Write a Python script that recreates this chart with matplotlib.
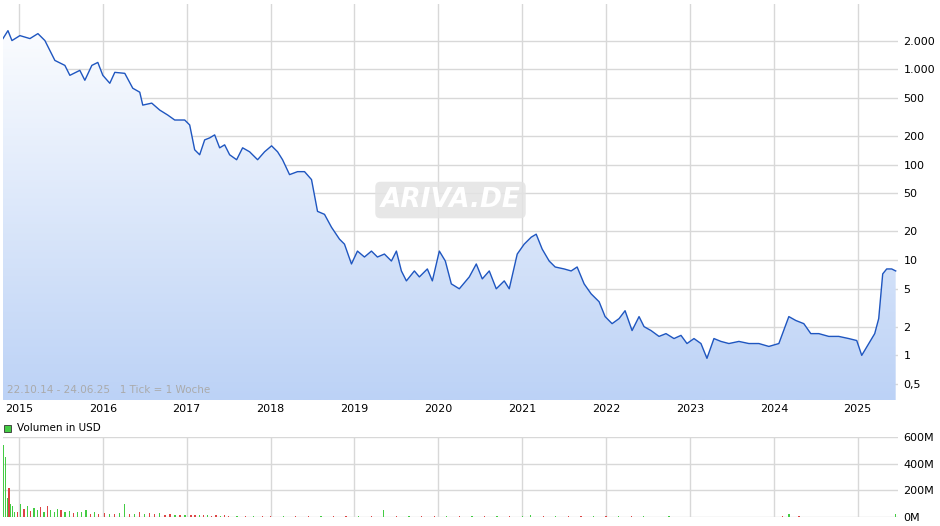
import numpy as np
import matplotlib
matplotlib.use("Agg")
import matplotlib.pyplot as plt
from matplotlib.patches import Rectangle
from matplotlib.colors import LinearSegmentedColormap

# price path: pixel-read (decimal year, price USD)
px = [3,8,12,20,30,38,45,50,55,65,70,80,85,92,98,103,110,115,125,133,140,143,152,160,168,175,185,190,195,200,
      205,210,215,220,225,230,237,243,250,258,265,272,278,283,290,298,305,312,318,325,332,340,345,352,358,365,
      372,378,385,392,397,402,407,415,420,428,433,440,446,452,460,470,477,483,490,497,505,510,518,525,532,537,
      543,550,556,565,572,578,585,592,600,606,613,620,626,633,640,645,652,660,667,675,682,688,695,702,708,715,
      722,730,740,750,760,770,780,790,797,805,812,820,830,840,850,858,863,870,876,880,884,888,893,897]
py = [38,30,40,35,38,33,40,50,60,65,75,70,80,65,62,75,83,72,73,88,92,105,103,110,115,120,120,125,150,155,
      140,138,135,148,145,155,160,148,152,160,152,146,152,160,175,172,172,180,212,215,228,240,245,265,252,258,
      252,258,255,262,252,272,282,272,278,270,282,252,262,285,290,278,265,280,272,290,282,290,255,245,238,235,
      250,262,268,270,272,268,285,295,303,318,325,320,312,332,318,328,332,338,335,340,337,345,340,345,360,340,
      343,345,343,345,345,348,345,318,322,325,335,335,338,338,340,342,357,345,335,320,275,270,270,272]
dates = [2015 + (x - 19) / 84.0 for x in px]
prices = [round(10 ** ((357 - y) / 96.0), 2) for y in py]

# volume (decimal year, millions USD)
vol_dates = [2014.82,2014.84,2014.86,2014.88,2014.90,2014.92,2014.95,2014.98,2015.02,2015.06,2015.10,2015.14,
             2015.18,2015.22,2015.26,2015.30,2015.34,2015.38,2015.42,2015.46,2015.50,2015.55,2015.60,2015.65,
             2015.70,2015.75,2015.80,2015.85,2015.90,2015.95,2016.02,2016.08,2016.14,2016.20,2016.26,2016.32,
             2016.38,2016.44,2016.50,2016.56,2016.62,2016.68,2016.74,2016.80,2016.86,2016.92,2016.98,2017.05,
             2017.10,2017.15,2017.20,2017.25,2017.30,2017.35,2017.40,2017.45,2017.50,2017.60,2017.70,2017.80,
             2017.90,2018.00,2018.15,2018.30,2018.45,2018.60,2018.75,2018.90,2019.05,2019.20,2019.35,2019.50,
             2019.65,2019.80,2019.95,2020.10,2020.25,2020.40,2020.55,2020.70,2020.85,2021.00,2021.10,2021.25,
             2021.40,2021.55,2021.70,2021.85,2022.00,2022.15,2022.30,2022.45,2022.60,2022.75,2022.90,2023.05,
             2023.20,2023.35,2023.50,2023.65,2023.80,2023.95,2024.10,2024.18,2024.30,2024.45,2024.60,2024.75,
             2024.90,2025.05,2025.20,2025.35,2025.45]
vol_vals = [540,450,140,215,95,80,40,35,95,60,85,45,70,50,75,40,85,55,40,60,55,35,45,30,35,40,55,25,35,25,
            28,22,25,30,100,25,22,35,25,30,20,28,18,22,15,18,15,14,12,16,12,14,10,12,10,12,8,9,10,8,
            10,7,6,8,6,5,7,6,6,5,50,5,4,5,4,6,5,4,5,4,5,6,12,5,4,5,4,5,4,4,4,4,3,4,3,3,
            3,3,3,3,3,3,4,20,4,3,3,3,3,3,3,3,25]
vol_up = [1,1,1,0,1,1,1,0,1,0,1,0,1,1,0,1,0,1,1,1,0,1,1,0,1,1,1,0,1,0,
          0,1,0,1,1,0,1,0,1,0,0,1,0,0,1,0,1,0,0,1,0,1,0,0,1,0,0,1,0,1,
          0,0,1,0,0,1,0,0,1,0,1,0,1,0,0,1,0,1,0,1,0,1,1,0,1,0,0,1,0,1,
          0,1,0,1,0,0,1,0,1,1,0,1,0,1,0,1,1,0,1,0,1,1,1]

year_ticks = list(range(2015, 2026))
price_ticks = [0.5, 1, 2, 5, 10, 20, 50, 100, 200, 500, 1000, 2000]
price_labels = ["0,5", "1", "2", "5", "10", "20", "50", "100", "200", "500", "1.000", "2.000"]
vol_ticks = [0, 200, 400, 600]
vol_labels = ["0M", "200M", "400M", "600M"]

W, H = 940, 526
fig = plt.figure(figsize=(W / 100, H / 100), dpi=100)
x0, x1 = 3 / W, 898 / W
ax = fig.add_axes([x0, (H - 400) / H, x1 - x0, 396 / H])
xmin, xmax = 2014.81, 2025.48
ymin, ymax = 0.34, 4850
ax.set_yscale("log")
ax.set_xlim(xmin, xmax)
ax.set_ylim(ymin, ymax)

grid_c = "#d8d8d8"
for t in year_ticks:
    ax.axvline(t, color=grid_c, lw=1, zorder=0)
for t in price_ticks:
    ax.axhline(t, color=grid_c, lw=1, zorder=0)

fill = ax.fill_between(dates, prices, ymin, color="none", lw=0)
grad = np.linspace(0, 1, 256).reshape(-1, 1)
cmap = LinearSegmentedColormap.from_list("g", ["#ffffff", "#bcd2f6"])
im = ax.imshow(grad, cmap=cmap, aspect="auto", extent=[0, 1, 0, 1],
               origin="upper", transform=ax.transAxes, zorder=1)
im.set_clip_path(fill.get_paths()[0], transform=ax.transData)
ax.set_xlim(xmin, xmax)
ax.set_ylim(ymin, ymax)
ax.plot(dates, prices, color="#1f56c0", lw=1.0, zorder=3)

ax.yaxis.tick_right()
ax.set_yticks(price_ticks)
ax.set_yticklabels(price_labels)
ax.yaxis.set_minor_locator(matplotlib.ticker.NullLocator())
ax.tick_params(axis="y", length=0, labelsize=8, pad=4)
ax.set_xticks(year_ticks)
ax.set_xticklabels([str(y) for y in year_ticks])
ax.tick_params(axis="x", length=0, labelsize=8, pad=3)
for s in ax.spines.values():
    s.set_visible(False)
ax.text(0.005, 0.012, "22.10.14 - 24.06.25   1 Tick = 1 Woche", transform=ax.transAxes,
        fontsize=7.5, color="#aaaaaa", va="bottom", zorder=4)
ax.text(0.5, 0.505, "ARIVA.DE", transform=ax.transAxes, fontsize=19, color="white",
        fontstyle="italic", fontweight="bold", ha="center", va="center", zorder=4,
        bbox=dict(boxstyle="round,pad=0.2", fc="#e3e3e3", ec="none", alpha=0.85))

vax = fig.add_axes([x0, (H - 517) / H, x1 - x0, 80 / H])
vax.set_xlim(xmin, xmax)
vax.set_ylim(0, 600)
for t in year_ticks:
    vax.axvline(t, color=grid_c, lw=1, zorder=0)
for t in vol_ticks:
    vax.axhline(t, color=grid_c, lw=1, zorder=0)
cols = ["#44cc44" if u else "#dd4444" for u in vol_up]
vax.bar(vol_dates, vol_vals, width=0.015, color=cols, zorder=2)
vax.yaxis.tick_right()
vax.set_yticks(vol_ticks)
vax.set_yticklabels(vol_labels)
vax.tick_params(axis="y", length=0, labelsize=8, pad=4)
vax.set_xticks([])
for s in vax.spines.values():
    s.set_visible(False)

fig.patches.append(Rectangle((4 / W, (H - 432) / H), 7 / W, 7 / H, transform=fig.transFigure,
                             fc="#44cc44", ec="#333333", lw=0.6))
fig.text(17 / W, (H - 428) / H, "Volumen in USD", fontsize=7.5, va="center")

fig.savefig("out.png", dpi=100)
